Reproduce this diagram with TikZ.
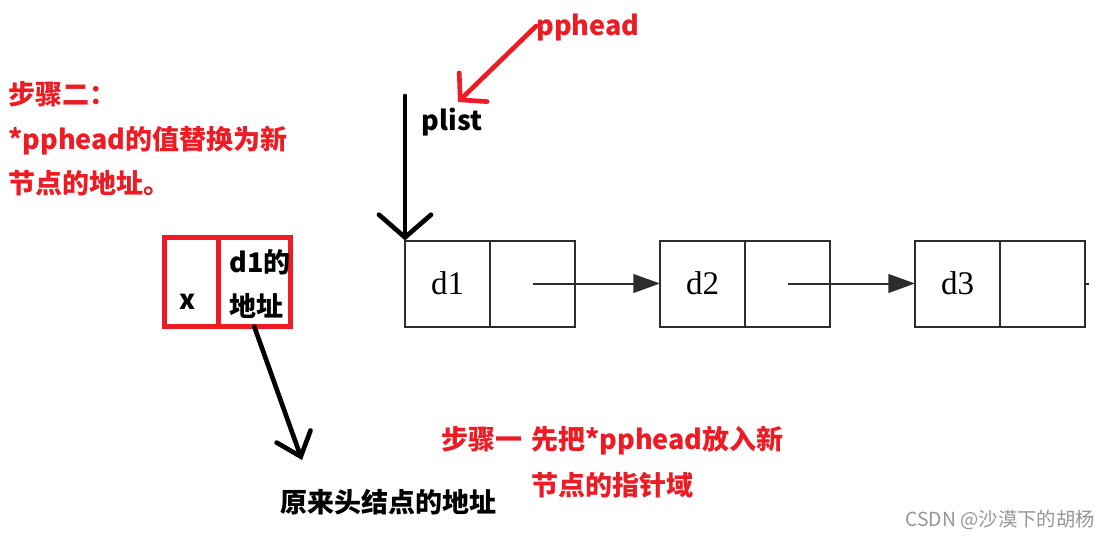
\documentclass[tikz,border=0pt]{standalone}
\usepackage{fontspec}
\usepackage{xcolor}
\usepackage{tikz}
\usetikzlibrary{arrows.meta, positioning}

\newfontfamily\cjk{Noto Sans CJK SC}
\newfontfamily\dfont{Liberation Serif}
\definecolor{stepred}{RGB}{237,28,36}
\definecolor{listgray}{RGB}{45,45,45}
\definecolor{markgray}{RGB}{150,150,150}

\begin{document}
\begin{tikzpicture}[
    x=0.75pt, y=-0.75pt,
    note/.style={font=\cjk\bfseries\fontsize{20.25pt}{24pt}\selectfont, inner sep=0pt, text height=17pt, text depth=3pt},
    rednote/.style={note, text=stepred},
    cell/.style={rectangle, draw=listgray, line width=1.5pt, outer sep=0pt, inner sep=0pt, minimum width=63.75pt, minimum height=64.5pt, font=\dfont\fontsize{24.75pt}{28pt}\selectfont},
    redcell/.style={rectangle, draw=stepred, line width=3.75pt, outer sep=0pt, inner sep=0pt, minimum height=66.75pt},
    link/.style={draw=listgray, line width=1.5pt, -{Triangle[length=20pt, width=14pt]}},
    pen/.style={line width=3.5pt, line cap=round}
]

\fill[white] (0,0) rectangle (1109,539);
\useasboundingbox (0,0) rectangle (1109,539);

% Linked list
\node[cell] (d1) at (447.5,283.5) {d1};
\node[cell, right=0pt of d1] (p1) {};
\node[cell] (d2) at (702.5,283.5) {d2};
\node[cell, right=0pt of d2] (p2) {};
\node[cell] (d3) at (957.5,283.5) {d3};
\node[cell, right=0pt of d3] (p3) {};
\coordinate (tail) at (1089,283.5);

\draw[link] (p1.center) -- (d2.west);
\draw[link] (p2.center) -- (d3.west);
\draw[draw=listgray, line width=1.5pt] (p3.east) -- (tail);

% Pointers
\node[rednote] (pphead) at (588,26) {pphead};
\node[note] (plist) at (452,121) {plist};
\coordinate (plisttip) at (458,102);
\coordinate (plisttop) at (405,96);

\draw[pen, draw=stepred, -{Straight Barb[length=13.5pt, width=30pt, line cap=round]}] (pphead.west) -- (plisttip);
\draw[pen, -{Straight Barb[length=17pt, width=39pt, line cap=round]}] (plisttop) -- (d1.north west);

% New node
\node[redcell, minimum width=53.5pt*0.75] (xcell) at (191.25,282) {};
\node[redcell, minimum width=72.5pt*0.75, right=0pt of xcell] (addr) {};
\node[note] (xval) at (188,300) {x};
\node[note, anchor=west] (addrtop) at (229,263) {d1的};
\node[note, anchor=west] (addrbot) at (229,307) {地址};
\coordinate (oldtip) at (302,460);
\draw[pen, -{Straight Barb[length=16pt, width=27pt, line cap=round]}] (addr.south) -- (oldtip);

% Notes
\node[note, anchor=west] (oldaddr) at (280,503) {原来头结点的地址};
\node[rednote, anchor=west] (step1) at (441,440) {步骤一};
\node[rednote, anchor=west] (step1a) at (531,440) {先把*pphead放入新};
\node[rednote, anchor=west] (step1b) at (531,486) {节点的指针域};
\node[rednote, anchor=west] (step2) at (8,95) {步骤二：};
\node[rednote, anchor=west] (step2a) at (8,140) {*pphead的值替换为新};
\node[rednote, anchor=west] (step2b) at (8,184) {节点的地址。};

\node[font=\cjk\fontsize{14.5pt}{17pt}\selectfont, text=markgray, anchor=east, inner sep=0pt] (mark) at (1095,520) {CSDN @沙漠下的胡杨};

\end{tikzpicture}
\end{document}
